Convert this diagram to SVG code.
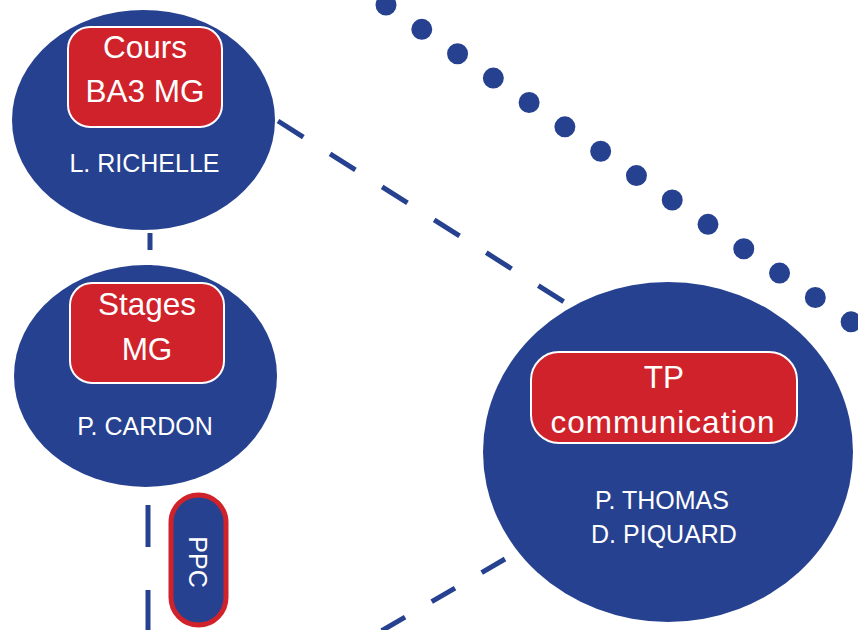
<svg xmlns="http://www.w3.org/2000/svg" width="858" height="630" viewBox="0 0 858 630">
<style>
.node{fill:#264190}
.tag{fill:#D0222A;stroke:#ffffff;stroke-width:2}
.t{font-family:"Liberation Sans",Arial,sans-serif;fill:#ffffff;text-anchor:middle}
.big{font-size:31.5px}
.name{font-size:25px}
.dash{stroke:#264190;stroke-width:5;fill:none}
</style>
<g id="connectors">
<line class="dash" x1="150" y1="233" x2="150" y2="266" stroke-dasharray="17 15"/>
<line class="dash" x1="148" y1="505" x2="148" y2="640" stroke-dasharray="42 43"/>
<line class="dash" x1="278" y1="121" x2="610" y2="331" stroke-dasharray="30 31.6"/>
<line class="dash" x1="505" y1="559" x2="340" y2="655" stroke-dasharray="27 30.8"/>
<line x1="350.23" y1="-19.38" x2="887" y2="346.3" stroke="#264190" stroke-width="21" stroke-linecap="round" stroke-dasharray="0 43.29"/>
</g>
<g id="node-richelle">
<ellipse class="node" cx="143.5" cy="120" rx="131.5" ry="110"/>
<rect class="tag" x="68" y="27" width="154" height="100" rx="22"/>
<text class="t big" x="145" y="58">Cours</text>
<text class="t big" x="145" y="102">BA3 MG</text>
<text class="t name" x="144.5" y="172">L. RICHELLE</text>
</g>
<g id="node-cardon">
<ellipse class="node" cx="145.5" cy="376" rx="131.5" ry="111"/>
<rect class="tag" x="70" y="283" width="154" height="100" rx="22"/>
<text class="t big" x="147" y="315">Stages</text>
<text class="t big" x="147" y="360">MG</text>
<text class="t name" x="145" y="435">P. CARDON</text>
</g>
<g id="node-ppc">
<rect x="171" y="495" width="55" height="130" rx="27.5" fill="#264190" stroke="#D0222A" stroke-width="5"/>
<text class="t" font-size="25" transform="translate(198,562) rotate(90)" x="0" y="9">PPC</text>
</g>
<g id="node-tp">
<ellipse class="node" cx="668" cy="452" rx="185" ry="170"/>
<rect class="tag" x="531" y="352" width="266" height="91" rx="28"/>
<text class="t big" x="664" y="388">TP</text>
<text class="t big" x="663" y="433" letter-spacing="1">communication</text>
<text class="t name" x="662" y="509">P. THOMAS</text>
<text class="t name" x="664" y="543">D. PIQUARD</text>
</g>
</svg>
